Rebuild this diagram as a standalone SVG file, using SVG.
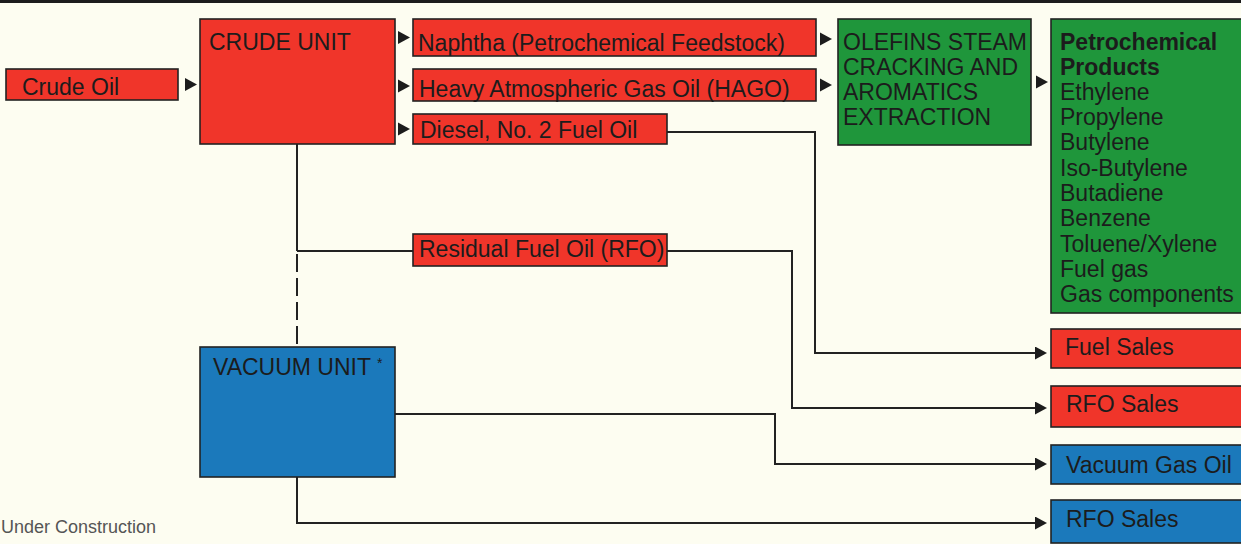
<svg xmlns="http://www.w3.org/2000/svg" xmlns:xlink="http://www.w3.org/1999/xlink" width="1241" height="544" viewBox="0 0 1241 544">
<style>
.bg{fill:#fdfdf1}
.red{fill:#f0352a;stroke:#222;stroke-width:1.6}
.green{fill:#1f963b;stroke:#222;stroke-width:1.6}
.blue{fill:#1b79bb;stroke:#222;stroke-width:1.6}
text{font-family:"Liberation Sans",Arial,Helvetica,sans-serif;font-size:23px;fill:#1c1c1c}
.b{font-weight:bold}
.note{font-size:18px;fill:#555}
.conn{fill:none;stroke:#222;stroke-width:2}
.dash{stroke-dasharray:18 6}
.tri{fill:#1c1c1c}
</style>
<defs>
<marker id="arr" viewBox="0 0 12 13" refX="0" refY="6.5" markerWidth="12" markerHeight="13" markerUnits="userSpaceOnUse" orient="auto">
<path d="M0,0 L12,6.5 L0,13 z" class="tri"/>
</marker>
<path id="tri" d="M0,-6.5 L12,0 L0,6.5 z" class="tri"/>
</defs>
<rect class="bg" x="0" y="0" width="1241" height="544"/>
<rect x="0" y="0" width="1241" height="3" fill="#1c1c1c"/>

<g id="connectors">
<use xlink:href="#tri" x="185" y="84.5"/>
<use xlink:href="#tri" x="398" y="37.5"/>
<use xlink:href="#tri" x="398" y="86"/>
<use xlink:href="#tri" x="398" y="129"/>
<use xlink:href="#tri" x="820" y="39"/>
<use xlink:href="#tri" x="820" y="85"/>
<use xlink:href="#tri" x="1036" y="82"/>
<path class="conn" d="M297,144 V251 M297,251 H413"/>
<path class="conn dash" d="M297,254 V347"/>
<path class="conn" d="M667,132 H815 V353 H1035" marker-end="url(#arr)"/>
<path class="conn" d="M667,251 H792 V408 H1035" marker-end="url(#arr)"/>
<path class="conn" d="M395,414 H775 V464 H1035" marker-end="url(#arr)"/>
<path class="conn" d="M297,477 V523 H1035" marker-end="url(#arr)"/>
</g>

<g id="crude-oil">
<rect class="red" x="6" y="69" width="172" height="31"/>
<text x="22" y="95">Crude Oil</text>
</g>
<g id="crude-unit">
<rect class="red" x="200" y="19" width="195" height="125"/>
<text x="209" y="50">CRUDE UNIT</text>
</g>
<g id="naphtha">
<rect class="red" x="413" y="19" width="403" height="37"/>
<text x="418" y="51">Naphtha (Petrochemical Feedstock)</text>
</g>
<g id="hago">
<rect class="red" x="413" y="69" width="403" height="32"/>
<text x="419" y="97">Heavy Atmospheric Gas Oil (HAGO)</text>
</g>
<g id="diesel">
<rect class="red" x="413" y="114" width="254" height="30"/>
<text x="420" y="138">Diesel, No. 2 Fuel Oil</text>
</g>
<g id="rfo">
<rect class="red" x="413" y="234" width="254" height="32"/>
<text x="419" y="257">Residual Fuel Oil (RFO)</text>
</g>
<g id="olefins">
<rect class="green" x="838" y="19" width="193" height="126"/>
<text x="843" y="50">OLEFINS STEAM</text>
<text x="843" y="75">CRACKING AND</text>
<text x="843" y="100">AROMATICS</text>
<text x="843" y="125">EXTRACTION</text>
</g>
<g id="petrochemical-products">
<rect class="green" x="1051" y="19" width="200" height="294"/>
<text class="b" x="1060" y="50">Petrochemical</text>
<text class="b" x="1060" y="75">Products</text>
<text x="1060" y="100">Ethylene</text>
<text x="1060" y="125">Propylene</text>
<text x="1060" y="150">Butylene</text>
<text x="1060" y="176">Iso-Butylene</text>
<text x="1060" y="201">Butadiene</text>
<text x="1060" y="226">Benzene</text>
<text x="1060" y="252">Toluene/Xylene</text>
<text x="1060" y="277">Fuel gas</text>
<text x="1060" y="302">Gas components</text>
</g>
<g id="vacuum-unit">
<rect class="blue" x="200" y="347" width="195" height="130"/>
<text x="213" y="375">VACUUM UNIT <tspan font-size="14" dy="-7">*</tspan></text>
</g>
<g id="fuel-sales">
<rect class="red" x="1051" y="329" width="200" height="39"/>
<text x="1065" y="355">Fuel Sales</text>
</g>
<g id="rfo-sales-red">
<rect class="red" x="1051" y="386" width="200" height="41"/>
<text x="1066" y="412">RFO Sales</text>
</g>
<g id="vacuum-gas-oil">
<rect class="blue" x="1051" y="445" width="200" height="39"/>
<text x="1066" y="473">Vacuum Gas Oil</text>
</g>
<g id="rfo-sales-blue">
<rect class="blue" x="1051" y="500" width="200" height="43"/>
<text x="1066" y="527">RFO Sales</text>
</g>
<g id="note">
<text class="note" x="1" y="533">Under Construction</text>
</g>
</svg>
